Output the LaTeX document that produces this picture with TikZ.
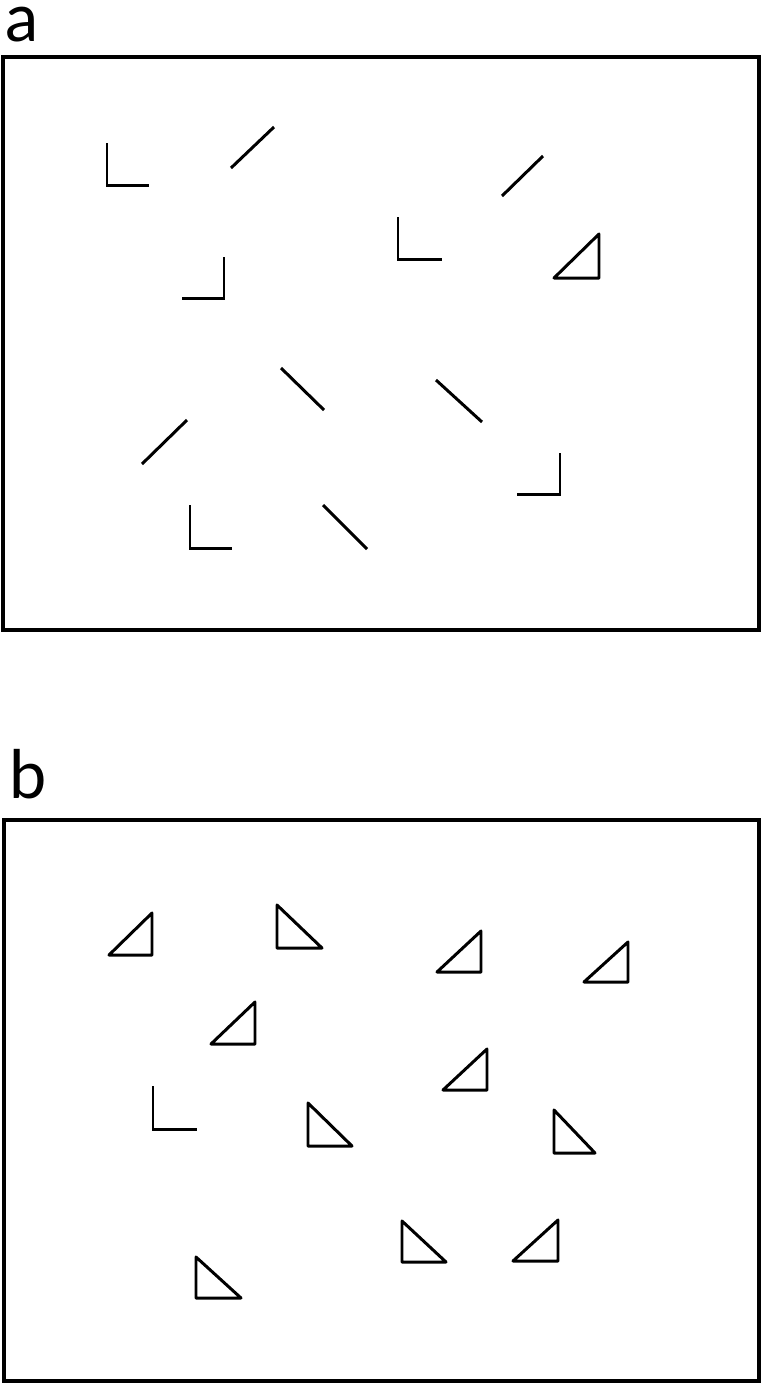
\documentclass[tikz,border=0pt]{standalone}
\usepackage{fontspec}
\setmainfont{Lato}
\begin{document}
\begin{tikzpicture}[x=0.02cm,y=-0.02cm,
  frame/.style={line width=2pt},
  shp/.style={line width=1.7pt,line join=miter},
  tri/.style={line width=1.7pt,line join=round},
  lbl/.style={anchor=base west,inner sep=0pt,font=\fontsize{38}{38}\selectfont}]
\useasboundingbox[fill=white] (0,0) rectangle (761,1384);
% labels
\node[lbl] (la) at (5,41) {a};
\node[lbl] (lb) at (9,798) {b};
% frames
\draw[frame] (3,57) rectangle (759,630);
\draw[frame] (4,820) rectangle (759,1381);
% panel a
\draw[shp] (107,143) -- (107,185) -- (149,185);
\draw[shp] (231,168) -- (274,127);
\draw[shp] (182,298) -- (224,298) -- (224,257);
\draw[shp] (502,196) -- (543,156);
\draw[shp] (398,217) -- (398,259) -- (442,259);
\draw[tri] (554,278) -- (599,278) -- (599,234) -- cycle;
\draw[shp] (281,368) -- (324,410);
\draw[shp] (142,464) -- (187,420);
\draw[shp] (190,505) -- (190,548) -- (232,548);
\draw[shp] (323,505) -- (367,549);
\draw[shp] (436,380) -- (482,422);
\draw[shp] (517,494) -- (560,494) -- (560,453);
% panel b
\draw[tri] (109,955) -- (152,955) -- (152,913) -- cycle;
\draw[tri] (277,905) -- (277,948) -- (322,948) -- cycle;
\draw[tri] (211,1044) -- (255,1044) -- (255,1002) -- cycle;
\draw[tri] (437,972) -- (481,972) -- (481,931) -- cycle;
\draw[tri] (584,982) -- (628,982) -- (628,942) -- cycle;
\draw[tri] (443,1090) -- (487,1090) -- (487,1049) -- cycle;
\draw[shp] (153,1086) -- (153,1129) -- (197,1129);
\draw[tri] (308,1103) -- (308,1146) -- (352,1146) -- cycle;
\draw[tri] (196,1257) -- (196,1298) -- (241,1298) -- cycle;
\draw[tri] (554,1110) -- (554,1153) -- (595,1153) -- cycle;
\draw[tri] (402,1221) -- (402,1262) -- (446,1262) -- cycle;
\draw[tri] (513,1261) -- (558,1261) -- (558,1220) -- cycle;
\end{tikzpicture}
\end{document}
